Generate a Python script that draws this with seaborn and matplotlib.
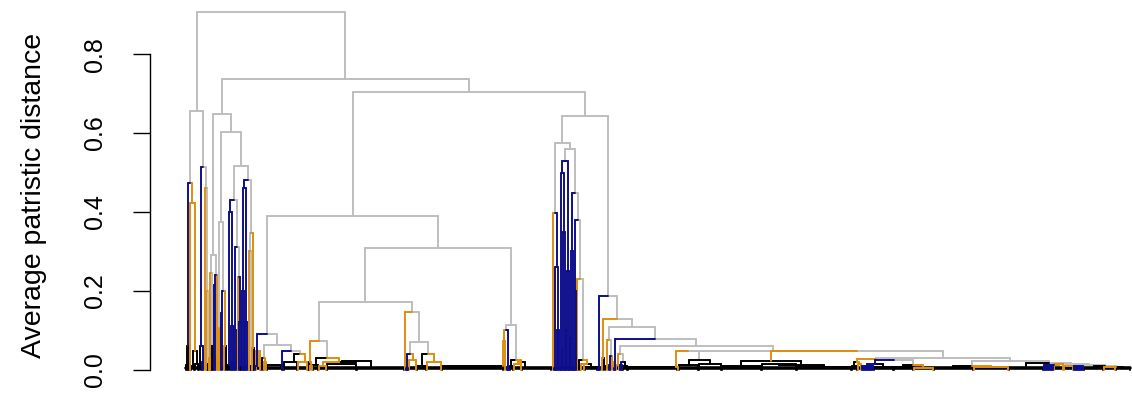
import matplotlib
matplotlib.use("Agg")
import matplotlib.pyplot as plt
import numpy as np
import pandas as pd
import seaborn as sns

# ---------------- data: dendrogram of average patristic distance ----------------
# internal node: (height, edge colour, left, right)
# collapsed tip group: [n_leaves, height, colour code, (anchor)]
#   colour code: one letter = edge and tips same colour, two letters = edge colour + tip colour
G, B, O, K = "g", "b", "o", "k"
GK, BK, OK_ = "gk", "bk", "ok"

clade_A = (0.656, G,
    (0.473, G,
        (0.059, B, [2, 0.012, K], [2, 0.02, K]),
        (0.422, O, [1, 0, O], (0.046, O, [4, 0.01, K], [4, 0.015, K]))),
    (0.515, G,
        (0.06, B, [3, 0.01, K], [2, 0.02, B]),
        (0.46, G, (0.05, O, [1, 0, O], [1, 0, O]),
                  (0.20, G, [1, 0, O], [2, 0.015, GK]))))

clade_B1a = (0.29, G,
    (0.245, G, [2, 0.03, O], (0.06, G, [1, 0, K], [2, 0.01, K])),
    (0.24, G, (0.215, B, [1, 0, B], [1, 0, B]), [2, 0.03, O]))

clade_B1b = (0.603, G,
    (0.375, G,
        (0.106, G, [2, 0.02, O], [1, 0, GK]),
        (0.20, G, (0.144, B, [1, 0, B], [1, 0, B]), (0.06, O, [2, 0, O], [3, 0.01, K]))),
    (0.516, G,
        (0.43, G,
            (0.40, B, [3, 0.012, BK], (0.11, B, [1, 0, B], [2, 0.02, B])),
            (0.31, G, (0.10, B, [1, 0, B], [2, 0.02, B]),
                      (0.236, G, [2, 0.05, O], (0.12, B, [1, 0, B], [2, 0.01, BK])))),
        (0.48, G,
            (0.46, B, (0.20, B, [1, 0, B], [2, 0, B]), (0.12, B, [1, 0, B], [2, 0.01, B])),
            (0.346, G, (0.30, G, [2, 0.03, O], [2, 0.01, GK]),
                       (0.055, O, [1, 0, O], [2, 0.01, K])))))

clade_B2a1 = (0.089, G,
    (0.01, B, [1, 0, B], [5, 0.046, O]),
    (0.062, G,
        (0.03, G, [3, 0.01, K], [3, 0.02, O]),
        (0.046, G,
            (0.005, B, [16, 0.012, K, 0.95], [1, 0, B]),
            (0.04, G, [14, 0.018, K, 0.8], [10, 0.02, O, 0.8]))))

clade_P = (0.172, G,
    (0.072, G,
        (0.018, O, [2, 0.006, K], [3, 0.01, O]),
        (0.028, G, [6, 0.012, K],
            (0.018, O, [8, 0.01, O], (0.022, K, [30, 0.014, K], [48, 0.005, K, 0.3])))),
    (0.145, G, [1, 0, O],
        (0.069, G,
            (0.04, G, [3, 0, B], [8, 0.025, O]),
            (0.04, G, [10, 0.01, K], [15, 0.02, O]))))

clade_Q = (0.114, G,
    (0.101, G, (0.072, O, [62, 0.008, OK_, 1.0], [3, 0, O]), [3, 0, B]),
    (0.025, G, [4, 0.01, K], (0.02, O, [8, 0.015, O], [30, 0.005, K, 0.1])))

clade_C = (0.574, G,
    (0.397, G, [2, 0, O], (0.26, B, [3, 0, B], [3, 0.10, B])),
    (0.559, G,
        (0.53, G, (0.498, B, [2, 0, B], (0.35, B, [2, 0.05, B], [2, 0, B])),
                  (0.25, B, [2, 0.10, B], [2, 0, B])),
        (0.447, G, (0.30, B, [2, 0.08, B], [2, 0, B]),
            (0.38, G, (0.20, B, [2, 0, B], [1, 0, B]),
                (0.23, G, [1, 0, O],
                    (0.025, G, [3, 0.01, K], (0.015, O, [4, 0.015, O], [13, 0.006, K])))))))

# right-hand staircase, innermost first
stair_12 = (0.008, G, [20, 0.005, K], (0.006, G, [12, 0.006, O], [15, 0.004, K]))
stair_11 = (0.011, G, (0.010, G, [10, 0.010, O], [10, 0.008, B]), stair_12)
stair_10 = (0.014, G, (0.012, G, [10, 0.012, B], [10, 0.015, O]), stair_11)
stair_9 = (0.017, G, [35, 0.005, K], stair_10)
stair_8 = (0.021, G, (0.010, G, [40, 0.005, K], [35, 0.006, O]), stair_9)
stair_7 = (0.030, G,
    (0.027, G, (0.020, O, [6, 0.010, K], [4, 0.015, O]),
               (0.024, G, (0.015, B, [12, 0.010, B], [20, 0.006, K]),
                          (0.012, G, [20, 0.006, K], [20, 0.005, O]))),
    stair_8)
stair_6 = (0.047, G, (0.021, O, [40, 0.009, K], (0.012, K, [35, 0.015, K], [55, 0.006, K])), stair_7)
stair_5 = (0.048, G, (0.046, G, (0.006, O, [50, 0.006, K, 0.95], [1, 0, O]),
                                (0.025, G, [20, 0.012, K], [23, 0.015, K])), stair_6)
stair_4 = (0.059, G, (0.040, G, [4, 0.012, O], (0.020, G, [3, 0.012, B], [5, 0.010, K])), stair_5)
stair_3 = (0.078, G, [2, 0, B], stair_4)
stair_2 = (0.107, G, (0.076, G, [3, 0, O], (0.035, G, [2, 0.012, B], [3, 0.020, O])), stair_3)
stair_1 = (0.127, G, (0.030, O, [2, 0, O], [3, 0.010, K]), stair_2)
stair_0 = (0.186, G, [3, 0, B], stair_1)

root_heights = {"root": 0.907, "B": 0.737, "B1": 0.648, "B2": 0.704,
                "B2a": 0.390, "B2a2": 0.309, "B2b": 0.644}

y_ticks = [0.0, 0.2, 0.4, 0.6, 0.8]
y_tick_labels = ["0.0", "0.2", "0.4", "0.6", "0.8"]
y_label = "Average patristic distance"

palette = {"g": "#BEBEBE", "k": "#000000", "o": "#DE8E0F", "b": "#0E0E8C"}

# ---------------- assemble tree ----------------
h = root_heights
tree = (h["root"], G, clade_A,
        (h["B"], G, (h["B1"], G, clade_B1a, clade_B1b),
         (h["B2"], G,
          (h["B2a"], G, clade_B2a1, (h["B2a2"], G, clade_P, clade_Q)),
          (h["B2b"], G, clade_C, stair_0))))

counter = [1]


def place(node):
    if isinstance(node, list):
        n, hh, c = node[:3]
        a = node[3] if len(node) > 3 else 0.5
        start = counter[0]
        counter[0] += n
        return {"x": start + a * (n - 1), "h": hh, "c": c[0], "tip": c[-1],
                "span": (start, start + n - 1), "kids": None}
    hh, c, l, r = node
    L = place(l)
    R = place(r)
    return {"x": (L["x"] + R["x"]) / 2, "h": hh, "c": c, "kids": (L, R)}


segs = []


def draw(nd):
    if nd["kids"] is None:
        s, e = nd["span"]
        hh, c = nd["h"], nd["tip"]
        if hh > 0:
            if e > s:
                segs.append((s, hh, e, hh, c))
                if c == B:
                    for i in range(s, e + 1):
                        segs.append((i, hh, i, 0, c))
                else:
                    segs.append((s, hh, s, 0, c))
                    segs.append((e, hh, e, 0, c))
            else:
                segs.append((s, hh, s, 0, c))
        elif c == B and e > s:
            for i in range(s, e + 1):
                segs.append((i, 0.004, i, 0, c))
        return
    for k in nd["kids"]:
        segs.append((nd["x"], nd["h"], k["x"], nd["h"], k["c"]))
        segs.append((k["x"], nd["h"], k["x"], k["h"], k["c"]))
        draw(k)


top = place(tree)
n_leaves = counter[0] - 1
draw(top)

rows = []
for i, (x0, y0, x1, y1, c) in enumerate(segs):
    rows.append((i, x0, y0, c))
    rows.append((i, x1, y1, c))
df = pd.DataFrame(rows, columns=["seg", "x", "y", "col"])
base = pd.DataFrame({"seg": [0, 0], "x": [1, n_leaves], "y": [0.004, 0.004], "col": ["k", "k"]})

# ---------------- plot ----------------
sns.set_theme(style="white")
plt.rcParams["font.family"] = ["Liberation Sans", "DejaVu Sans"]

W, H = 1132, 394
fig = plt.figure(figsize=(W / 100, H / 100), dpi=100)
ax = fig.add_axes([150 / W, 9 / H, (W - 150) / W, 380 / H])

sns.lineplot(data=base, x="x", y="y", units="seg", estimator=None, color="black",
             linewidth=2.6, sort=False, ax=ax, legend=False)
sns.lineplot(data=df, x="x", y="y", units="seg", estimator=None, hue="col",
             hue_order=["g", "k", "o", "b"], palette=palette, linewidth=1.4,
             sort=False, ax=ax, legend=False)

ax.set_xlim(1 - 36, 1 - 36 + (W - 150))
ax.set_ylim(-(385 - 369.5) / 394, (369.5 - 5) / 394)
ax.set_xticks([])
ax.set_xlabel("")
ax.set_yticks(y_ticks)
ax.set_yticklabels(y_tick_labels)
ax.tick_params(axis="y", direction="out", length=12, width=1.0, color="black",
               labelsize=18, labelrotation=90, pad=19, labelcolor="black", left=True)
for lab in ax.get_yticklabels():
    lab.set_verticalalignment("center")
for s in ["top", "right", "bottom"]:
    ax.spines[s].set_visible(False)
ax.spines["left"].set_bounds(0, 0.8)
ax.spines["left"].set_color("black")
ax.spines["left"].set_linewidth(1.0)
ax.set_ylabel(y_label, fontsize=20.5, color="black")
ax.yaxis.set_label_coords((47 - 150) / (W - 150), 0.5)
ax.patch.set_alpha(0)

fig.savefig("out.png", dpi=100)
